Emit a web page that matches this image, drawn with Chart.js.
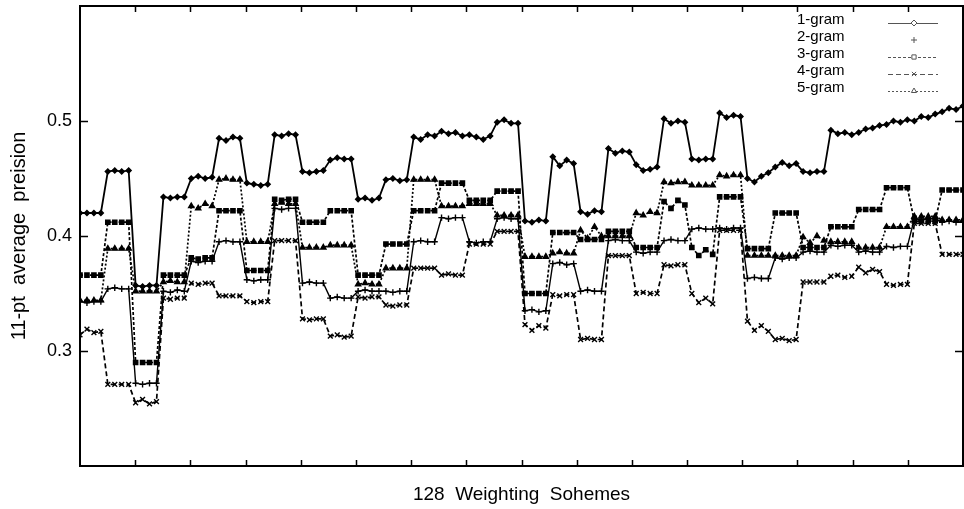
<!DOCTYPE html>
<html>
<head>
<meta charset="utf-8">
<title>11-pt average precision, 128 weighting schemes</title>
<script src="https://cdn.jsdelivr.net/npm/chart.js@4/dist/chart.umd.min.js"></script>
<style>
  html, body { margin: 0; padding: 0; background: #fff; }
  canvas { display: block; }
</style>
</head>
<body>
<canvas id="chart" width="964" height="509"></canvas>
<script>
// -- data ------------------------------------------------------------------

const SCHEMES = Array.from({ length: 128 }, (_, i) => i);
const Y_TICKS = [0.3, 0.4, 0.5];
const SERIES_NAMES = ['1-gram', '2-gram', '3-gram', '4-gram', '5-gram'];

const ONE_GRAM = [
  .420,.420,.420,.420, .456,.457,.456,.457, .357,.356,.357,.357, .434,.433,.434,.434,
  .450,.452,.450,.451, .485,.483,.486,.485, .446,.445,.444,.445, .488,.487,.489,.488,
  .456,.455,.456,.457, .466,.468,.467,.467, .432,.433,.431,.433, .449,.450,.448,.449,
  .486,.484,.488,.487, .491,.489,.490,.487, .488,.486,.484,.487, .499,.501,.498,.498,
  .413,.412,.414,.413, .469,.461,.466,.463, .421,.419,.422,.421, .476,.472,.474,.473,
  .462,.457,.458,.460, .502,.498,.500,.499, .467,.466,.467,.467, .507,.503,.505,.504,
  .450,.447,.452,.455, .460,.464,.461,.463, .456,.455,.456,.456, .492,.489,.490,.488,
  .490,.493,.494,.496, .497,.500,.499,.501, .500,.504,.503,.506, .508,.511,.510,.513,
];

const TWO_GRAM = [
  .343,.342,.343,.343, .354,.355,.354,.354, .272,.271,.272,.272, .352,.351,.353,.352,
  .378,.377,.378,.378, .395,.396,.395,.395, .362,.361,.362,.362, .424,.423,.424,.424,
  .359,.360,.359,.359, .346,.347,.346,.346, .352,.353,.352,.352, .352,.351,.352,.352,
  .395,.396,.395,.395, .416,.415,.416,.416, .395,.394,.395,.395, .415,.416,.415,.415,
  .335,.336,.334,.335, .376,.377,.375,.376, .352,.353,.352,.352, .396,.397,.396,.396,
  .386,.385,.386,.386, .396,.397,.396,.396, .406,.407,.406,.406, .407,.406,.407,.407,
  .363,.364,.363,.363, .381,.380,.381,.381, .386,.387,.386,.386, .392,.391,.392,.392,
  .386,.387,.386,.386, .391,.390,.391,.391, .415,.414,.415,.415, .412,.413,.412,.412,
];

const THREE_GRAM = [
  .366,.366,.366,.366, .412,.412,.412,.412, .290,.290,.290,.290, .366,.366,.366,.366,
  .381,.380,.381,.381, .422,.422,.422,.422, .370,.370,.370,.370, .432,.431,.432,.432,
  .412,.412,.412,.412, .422,.422,.422,.422, .366,.366,.366,.366, .393,.393,.393,.393,
  .422,.422,.422,.422, .446,.446,.446,.446, .431,.431,.431,.431, .439,.439,.439,.439,
  .350,.350,.350,.350, .403,.403,.403,.403, .397,.397,.397,.397, .404,.404,.404,.404,
  .390,.390,.390,.390, .430,.424,.431,.427, .390,.383,.388,.384, .434,.434,.434,.434,
  .389,.389,.389,.389, .420,.420,.420,.420, .390,.390,.390,.390, .408,.408,.408,.408,
  .423,.423,.423,.423, .442,.442,.442,.442, .413,.413,.413,.413, .440,.440,.440,.440,
];

const FOUR_GRAM = [
  .314,.319,.316,.317, .271,.271,.271,.271, .255,.258,.254,.256, .346,.345,.346,.346,
  .359,.358,.359,.359, .348,.348,.348,.348, .343,.342,.343,.343, .396,.396,.396,.396,
  .328,.327,.328,.328, .313,.314,.312,.313, .347,.346,.347,.347, .340,.339,.340,.340,
  .372,.372,.372,.372, .366,.367,.366,.366, .393,.393,.393,.393, .404,.404,.404,.404,
  .323,.318,.322,.320, .349,.348,.349,.349, .310,.311,.310,.310, .383,.383,.383,.383,
  .350,.351,.350,.350, .375,.374,.375,.375, .350,.342,.346,.341, .405,.405,.405,.405,
  .326,.318,.322,.317, .310,.311,.309,.310, .360,.360,.360,.360, .365,.366,.364,.365,
  .373,.368,.371,.369, .358,.357,.358,.358, .411,.411,.411,.411, .384,.384,.384,.384,
];

const FIVE_GRAM = [
  .344,.344,.344,.344, .389,.389,.389,.389, .352,.352,.352,.352, .360,.361,.360,.360,
  .426,.424,.428,.426, .449,.450,.449,.449, .395,.395,.395,.395, .428,.429,.428,.428,
  .390,.390,.390,.390, .392,.392,.392,.392, .358,.359,.358,.358, .372,.372,.372,.372,
  .449,.449,.449,.449, .426,.426,.426,.426, .428,.428,.428,.428, .418,.418,.418,.418,
  .382,.382,.382,.382, .385,.386,.385,.385, .405,.398,.408,.400, .400,.400,.400,.400,
  .420,.418,.421,.420, .447,.446,.447,.447, .444,.444,.444,.444, .453,.452,.453,.453,
  .383,.383,.383,.383, .383,.383,.383,.383, .399,.394,.400,.396, .395,.395,.395,.395,
  .390,.390,.390,.390, .408,.408,.408,.408, .417,.417,.417,.417, .414,.414,.414,.414,
];

// -- chart -------------------------------------------------------------

const FONT = "'Liberation Sans', Arial, Helvetica, sans-serif";
const X_TICKS = Array.from({ length: 15 }, (_, k) => (k + 1) * 127 / 16);

function pts(values) {
  return values.map((v, i) => ({ x: SCHEMES[i], y: v }));
}

function series(label, values, style) {
  return Object.assign({
    label,
    data: pts(values),
    borderColor: '#000',
    backgroundColor: '#000',
    pointBackgroundColor: '#000',
    pointBorderColor: '#000',
    borderWidth: 1.7,
    pointBorderWidth: 1.4,
    pointRadius: 2.6,
    pointHoverRadius: 2.6,
    fill: false,
    tension: 0,
  }, style);
}

// frame with inward ticks on all four sides (gnuplot look)
const framePlugin = {
  id: 'frame',
  afterDraw(chart) {
    const { ctx, chartArea: a, scales: { x, y } } = chart;
    ctx.save();
    ctx.strokeStyle = '#000';
    ctx.lineWidth = 2;
    ctx.strokeRect(a.left, a.top, a.right - a.left, a.bottom - a.top);
    ctx.lineWidth = 1.5;
    ctx.beginPath();
    x.ticks.forEach(t => {
      const px = Math.round(x.getPixelForValue(t.value)) + 0.5;
      ctx.moveTo(px, a.bottom); ctx.lineTo(px, a.bottom - 6);
      ctx.moveTo(px, a.top);    ctx.lineTo(px, a.top + 6);
    });
    y.ticks.forEach(t => {
      const py = Math.round(y.getPixelForValue(t.value)) + 0.5;
      ctx.moveTo(a.left, py);  ctx.lineTo(a.left + 8, py);
      ctx.moveTo(a.right, py); ctx.lineTo(a.right - 8, py);
    });
    ctx.stroke();
    ctx.restore();
  }
};

// key box, top right inside the plot: name, then line sample with marker
const keyPlugin = {
  id: 'key',
  afterDraw(chart) {
    const { ctx, chartArea: a } = chart;
    ctx.save();
    ctx.font = '15px ' + FONT;
    ctx.textBaseline = 'middle';
    ctx.textAlign = 'left';
    chart.data.datasets.forEach((ds, i) => {
      const ty = a.top + 14 + i * 17;
      const sy = ty + 3;
      ctx.fillStyle = '#000';
      ctx.fillText(ds.label, a.right - 166, ty);
      ctx.strokeStyle = '#555';
      ctx.lineWidth = 1;
      if (ds.keyLine !== false) {
        ctx.setLineDash(ds.borderDash || []);
        ctx.beginPath();
        ctx.moveTo(a.right - 75, sy + 0.5);
        ctx.lineTo(a.right - 25, sy + 0.5);
        ctx.stroke();
        ctx.setLineDash([]);
      }
      if (Chart.helpers && Chart.helpers.drawPoint) {
        ctx.fillStyle = '#fff';
        Chart.helpers.drawPoint(ctx, {
          pointStyle: ds.pointStyle, radius: 3, borderWidth: 1, rotation: 0
        }, a.right - 49, sy);
      }
    });
    ctx.restore();
  }
};

new Chart(document.getElementById('chart'), {
  type: 'line',
  data: {
    datasets: [
      series(SERIES_NAMES[0], ONE_GRAM,   { pointStyle: 'rectRot', pointRadius: 2.5, borderWidth: 1.8 }),
      series(SERIES_NAMES[1], TWO_GRAM,   { pointStyle: 'cross', pointRadius: 3.2, borderWidth: 1.4, keyLine: false }),
      series(SERIES_NAMES[2], THREE_GRAM, { pointStyle: 'rect', pointRadius: 3, borderDash: [3, 2] }),
      series(SERIES_NAMES[3], FOUR_GRAM,  { pointStyle: 'crossRot', pointRadius: 3.4, borderDash: [5, 3] }),
      series(SERIES_NAMES[4], FIVE_GRAM,  { pointStyle: 'triangle', pointRadius: 3, borderDash: [2, 2] }),
    ],
  },
  options: {
    responsive: false,
    animation: false,
    devicePixelRatio: 1,
    layout: { autoPadding: false, padding: { top: 6, right: 1, left: 0, bottom: 0 } },
    plugins: {
      legend: { display: false },
      tooltip: { enabled: false },
    },
    scales: {
      x: {
        type: 'linear',
        min: 0,
        max: 127,
        grid: { display: false, drawTicks: false },
        border: { display: false },
        ticks: { display: false },
        afterBuildTicks: axis => { axis.ticks = X_TICKS.map(v => ({ value: v })); },
        afterFit: axis => {
          axis.height = 43;
          axis.paddingLeft = 0;
          axis.paddingRight = 0;
        },
        title: {
          display: true,
          text: '128  Weighting  Sohemes',
          color: '#000',
          font: { family: FONT, size: 19 },
          padding: { top: 0, bottom: 3 },
        },
      },
      y: {
        min: 0.2,
        max: 0.6,
        grid: { display: false, drawTicks: false },
        border: { display: false },
        afterBuildTicks: axis => { axis.ticks = Y_TICKS.map(v => ({ value: v })); },
        afterFit: axis => {
          axis.width = 80;
          axis.paddingTop = 0;
          axis.paddingBottom = 0;
        },
        ticks: {
          color: '#000',
          padding: 8,
          font: { family: FONT, size: 18 },
          callback: v => v.toFixed(1),
        },
        title: {
          display: true,
          text: '11-pt  average  preision',
          color: '#000',
          font: { family: FONT, size: 20 },
          padding: { top: 7, bottom: 0 },
        },
      },
    },
  },
  plugins: [framePlugin, keyPlugin],
});
</script>
</body>
</html>
